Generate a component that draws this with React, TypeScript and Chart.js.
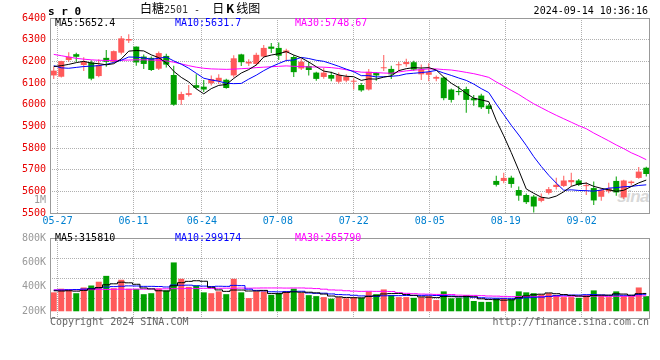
import React, { useEffect, useRef } from 'react';
import { Chart, registerables } from 'chart.js';

Chart.register(...registerables);

// ---------- data ----------
const DATES = [
  '05-24',
  '05-27', '05-28', '05-29', '05-30', '05-31',
  '06-03', '06-04', '06-05', '06-06', '06-07',
  '06-11', '06-12', '06-13', '06-14',
  '06-17', '06-18', '06-19', '06-20', '06-21',
  '06-24', '06-25', '06-26', '06-27', '06-28',
  '07-01', '07-02', '07-03', '07-04', '07-05',
  '07-08', '07-09', '07-10', '07-11', '07-12',
  '07-15', '07-16', '07-17', '07-18', '07-19',
  '07-22', '07-23', '07-24', '07-25', '07-26',
  '07-29', '07-30', '07-31', '08-01', '08-02',
  '08-05', '08-06', '08-07', '08-08', '08-09',
  '08-12', '08-13', '08-14', '08-15', '08-16',
  '08-19', '08-20', '08-21', '08-22', '08-23',
  '08-26', '08-27', '08-28', '08-29', '08-30',
  '09-02', '09-03', '09-04', '09-05', '09-06',
  '09-09', '09-10', '09-11', '09-12', '09-13',
];
const DATE_TICKS = [1, 11, 20, 30, 40, 50, 60, 70];

const OPEN = [
  6135, 6129, 6206, 6233, 6183, 6195, 6132, 6216, 6198, 6240,
  6296, 6268, 6222, 6216, 6166, 6225, 6137, 6022, 6045, 6090,
  6083, 6099, 6109, 6115, 6135, 6232, 6190, 6188, 6222, 6268,
  6262, 6240, 6220, 6167, 6178, 6148, 6128, 6137, 6106, 6111,
  6106, 6091, 6070, 6146, 6168, 6165, 6182, 6187, 6196, 6140,
  6138, 6120, 6125, 6070, 6063, 6072, 6030, 6042, 5996, 5648,
  5648, 5663, 5606, 5583, 5576, 5556, 5593, 5620, 5625, 5642,
  5650, 5624, 5615, 5575, 5600, 5648, 5572, 5638, 5662, 5709,
];
const HIGH = [
  6175, 6203, 6242, 6240, 6219, 6205, 6210, 6252, 6250, 6317,
  6325, 6268, 6232, 6222, 6245, 6235, 6180, 6060, 6091, 6140,
  6114, 6135, 6140, 6120, 6228, 6235, 6210, 6240, 6275, 6285,
  6287, 6258, 6228, 6212, 6198, 6152, 6170, 6152, 6148, 6140,
  6122, 6100, 6165, 6150, 6229, 6180, 6198, 6212, 6203, 6185,
  6191, 6135, 6130, 6075, 6086, 6083, 6045, 6050, 6003, 5672,
  5686, 5672, 5622, 5590, 5583, 5590, 5620, 5663, 5672, 5686,
  5657, 5642, 5645, 5614, 5640, 5668, 5653, 5650, 5712, 5714,
];
const LOW = [
  6118, 6125, 6198, 6198, 6155, 6113, 6126, 6175, 6195, 6232,
  6285, 6180, 6165, 6155, 6160, 6172, 5995, 6000, 6038, 6072,
  6058, 6088, 6095, 6074, 6125, 6178, 6178, 6180, 6220, 6238,
  6206, 6200, 6128, 6160, 6135, 6110, 6120, 6108, 6098, 6104,
  6070, 6060, 6065, 6110, 6155, 6118, 6155, 6175, 6157, 6114,
  6108, 6108, 6020, 6010, 6043, 5963, 5995, 5980, 5958, 5622,
  5637, 5617, 5557, 5542, 5502, 5550, 5585, 5608, 5620, 5624,
  5625, 5583, 5537, 5556, 5591, 5580, 5565, 5628, 5658, 5668,
];
const CLOSE = [
  6157, 6201, 6221, 6221, 6198, 6120, 6183, 6198, 6247, 6306,
  6303, 6195, 6188, 6160, 6238, 6185, 6000, 6049, 6053, 6078,
  6070, 6118, 6124, 6077, 6214, 6196, 6198, 6230, 6262, 6258,
  6226, 6250, 6150, 6198, 6160, 6119, 6148, 6120, 6137, 6129,
  6109, 6066, 6152, 6135, 6172, 6140, 6184, 6197, 6162, 6163,
  6150, 6128, 6030, 6022, 6058, 6022, 6020, 5988, 5980, 5630,
  5662, 5634, 5580, 5550, 5530, 5571, 5610, 5630, 5650, 5652,
  5630, 5626, 5558, 5606, 5614, 5595, 5650, 5645, 5691, 5680,
];
const MA5 = [
  6176, 6180, 6186, 6194, 6200, 6192, 6189, 6184, 6189, 6211,
  6247, 6250, 6248, 6230, 6217, 6193, 6154, 6126, 6105, 6073,
  6050, 6074, 6089, 6093, 6121, 6146, 6162, 6183, 6220, 6229,
  6235, 6245, 6229, 6216, 6197, 6175, 6155, 6149, 6137, 6131,
  6129, 6112, 6119, 6118, 6127, 6133, 6157, 6166, 6171, 6169,
  6171, 6160, 6127, 6099, 6078, 6052, 6030, 6022, 6014, 5928,
  5856, 5779, 5697, 5611, 5591, 5573, 5568, 5578, 5598, 5623,
  5634, 5638, 5623, 5614, 5607, 5600, 5605, 5622, 5639, 5652,
];
const MA10 = [
  6180, 6170, 6168, 6172, 6176, 6178, 6180, 6186, 6195, 6205,
  6220, 6219, 6216, 6210, 6214, 6220, 6202, 6187, 6168, 6145,
  6122, 6114, 6108, 6099, 6097, 6098, 6118, 6136, 6157, 6175,
  6190, 6204, 6206, 6218, 6213, 6205, 6200, 6189, 6177, 6164,
  6152, 6134, 6134, 6128, 6129, 6131, 6134, 6142, 6145, 6148,
  6152, 6158, 6146, 6135, 6123, 6112, 6095, 6074, 6056, 6003,
  5954, 5905, 5860, 5812, 5760, 5715, 5674, 5638, 5605, 5607,
  5604, 5603, 5601, 5606, 5615, 5617, 5621, 5623, 5627, 5630,
];
const MA30 = [
  6232, 6226, 6220, 6214, 6210, 6207, 6205, 6204, 6204, 6205,
  6206, 6207, 6207, 6206, 6205, 6202, 6196, 6188, 6180, 6173,
  6168, 6165, 6164, 6163, 6164, 6166, 6168, 6171, 6173, 6175,
  6177, 6179, 6177, 6176, 6174, 6174, 6173, 6171, 6167, 6161,
  6155, 6150, 6149, 6148, 6146, 6145, 6151, 6156, 6159, 6162,
  6165, 6165, 6162, 6160, 6155, 6149, 6143, 6135, 6126, 6105,
  6086, 6066, 6047, 6025, 6004, 5986, 5968, 5951, 5935, 5919,
  5903, 5889, 5869, 5851, 5833, 5814, 5797, 5778, 5763, 5746,
];

// volume, thousands
const VOLUME = [
  355, 385, 374, 348, 395, 411, 442, 490, 389, 458,
  385, 382, 340, 348, 387, 371, 600, 466, 400, 411,
  355, 348, 363, 340, 466, 355, 308, 363, 363, 334,
  350, 363, 385, 350, 332, 324, 316, 303, 316, 306,
  316, 310, 363, 340, 379, 332, 316, 316, 310, 316,
  324, 292, 363, 306, 310, 332, 284, 277, 277, 306,
  310, 298, 363, 355, 348, 337, 348, 334, 316, 316,
  310, 332, 371, 332, 316, 363, 324, 324, 395, 324,
];
const VOL_MA5 = [
  368, 366, 368, 365, 371, 383, 394, 417, 425, 438,
  433, 421, 391, 383, 368, 366, 409, 434, 445, 450,
  446, 396, 375, 363, 374, 374, 366, 366, 371, 345,
  344, 355, 359, 356, 356, 351, 341, 325, 318, 313,
  311, 310, 322, 327, 342, 345, 346, 337, 331, 318,
  316, 312, 321, 320, 319, 321, 319, 302, 296, 295,
  291, 294, 311, 326, 335, 340, 350, 344, 337, 330,
  325, 322, 329, 332, 332, 343, 341, 332, 344, 346,
];
const VOL_MA10 = [
  372, 374, 376, 378, 382, 386, 392, 398, 402, 405,
  408, 407, 404, 404, 403, 399, 415, 413, 414, 409,
  406, 403, 405, 404, 412, 410, 381, 371, 367, 360,
  359, 361, 363, 364, 350, 347, 348, 342, 337, 335,
  331, 326, 324, 323, 327, 328, 328, 329, 329, 330,
  331, 329, 329, 325, 319, 319, 315, 311, 308, 307,
  306, 306, 306, 311, 315, 316, 322, 328, 332, 333,
  333, 336, 337, 334, 331, 334, 331, 330, 338, 339,
];
const VOL_MA30 = [
  376, 375, 377, 376, 378, 377, 379, 378, 380, 381,
  380, 382, 381, 383, 382, 384, 385, 385, 387, 386,
  388, 387, 388, 389, 388, 390, 389, 390, 391, 391,
  391, 390, 391, 391, 389, 386, 381, 375, 373, 368,
  365, 363, 364, 363, 363, 362, 352, 347, 344, 341,
  340, 338, 338, 337, 332, 331, 330, 328, 325, 324,
  322, 320, 320, 320, 320, 321, 322, 323, 323, 323,
  323, 324, 324, 324, 322, 323, 323, 323, 326, 326,
];
const VOL_TICKS = [200, 400, 600, 800];
const VOL_BASE = 200;
const VOL_MIN = 145;
const VOL_MAX = 800;
const PRICE_MIN = 5500;
const PRICE_MAX = 6400;
const PRICE_STEP = 100;

// ---------- styles ----------
const UP = '#ff5a5a';
const DOWN = '#00a000';
const GRID = '#b0b0b0';
const FRAME = '#999999';
const MONO = '"DejaVu Sans Mono", monospace';
const TICK_FONT = { family: 'DejaVu Sans Mono', size: 10 };

const COLORS = CLOSE.map((c, i) => (c >= OPEN[i] ? UP : DOWN));

const framePlugin = {
  id: 'frame',
  afterDraw(chart: any) {
    const { ctx, chartArea: a } = chart;
    const l = Math.round(a.left);
    const r = Math.round(a.right);
    const t = Math.round(a.top);
    const b = Math.round(a.bottom);
    ctx.save();
    ctx.strokeStyle = FRAME;
    ctx.lineWidth = 1;
    ctx.strokeRect(l + 0.5, t + 0.5, r - l - 1, b - t);
    ctx.restore();
  },
};

const dateAxis = (showLabels: boolean, height: number) => ({
  type: 'linear',
  position: 'bottom',
  offset: false,
  min: 0,
  max: DATES.length - 1,
  afterBuildTicks: (s: any) => {
    s.ticks = DATE_TICKS.map((v) => ({ value: v }));
  },
  afterFit: (s: any) => {
    s.height = height;
  },
  ticks: {
    display: showLabels,
    autoSkip: false,
    maxRotation: 0,
    padding: 2,
    color: '#0080d0',
    font: TICK_FONT,
    callback: (v: number) => DATES[v],
  },
  grid: { color: GRID, lineWidth: 1, drawTicks: false, offset: false },
  border: { display: false, dash: [1, 1] },
});

const maLine = (label: string, data: number[], color: string, yAxisID: string, stepped: any) => ({
  type: 'line',
  label,
  data,
  borderColor: color,
  borderWidth: 1,
  pointRadius: 0,
  tension: 0,
  stepped,
  order: 0,
  xAxisID: 'x',
  yAxisID,
});

function T(props: { x?: number; r?: number; y: number; color?: string; size?: number; bold?: boolean; family?: string; children: any }) {
  const style: any = {
    position: 'absolute',
    top: props.y,
    color: props.color || '#000',
    font: `${props.bold ? 'bold ' : ''}${props.size || 10}px ${props.family || MONO}`,
    lineHeight: '12px',
    whiteSpace: 'pre',
  };
  if (props.r !== undefined) style.right = props.r;
  else style.left = props.x;
  return <div style={style}>{props.children}</div>;
}

export default function App() {
  const refA = useRef<HTMLCanvasElement>(null);
  const refB = useRef<HTMLCanvasElement>(null);

  useEffect(() => {
    const priceChart = new Chart(refA.current as HTMLCanvasElement, {
      type: 'bar',
      data: {
        labels: DATES,
        datasets: [
          maLine('MA5', MA5, '#000000', 'y', false),
          maLine('MA10', MA10, '#0000ff', 'y', false),
          maLine('MA30', MA30, '#ff00ff', 'y', false),
          {
            type: 'bar',
            label: 'body',
            data: OPEN.map((o, i) => [o, CLOSE[i]]),
            backgroundColor: COLORS,
            barThickness: 6,
            minBarLength: 1,
            grouped: false,
            inflateAmount: 0,
            order: 1,
            xAxisID: 'x',
            yAxisID: 'y',
          },
          {
            type: 'bar',
            label: 'wick',
            data: LOW.map((l, i) => [l, HIGH[i]]),
            backgroundColor: COLORS,
            barThickness: 1,
            grouped: false,
            inflateAmount: 0,
            order: 2,
            xAxisID: 'x',
            yAxisID: 'y',
          },
        ] as any,
      },
      options: {
        animation: false,
        responsive: false,
        maintainAspectRatio: false,
        events: [],
        layout: { padding: { left: 0, right: 10, top: 18, bottom: 0 } },
        plugins: { legend: { display: false }, tooltip: { enabled: false } },
        scales: {
          x: { type: 'category', display: false, offset: true },
          xd: dateAxis(true, 19),
          y: {
            type: 'linear',
            position: 'left',
            min: PRICE_MIN,
            max: PRICE_MAX,
            afterFit: (s: any) => {
              s.width = 50;
            },
            ticks: {
              stepSize: PRICE_STEP,
              color: '#e80000',
              font: TICK_FONT,
              padding: 4,
              callback: (v: number) => String(v),
            },
            grid: { color: GRID, lineWidth: 1, drawTicks: false },
            border: { display: false, dash: [1, 1] },
          },
        } as any,
      },
      plugins: [framePlugin],
    } as any);

    const volChart = new Chart(refB.current as HTMLCanvasElement, {
      type: 'bar',
      data: {
        labels: DATES,
        datasets: [
          maLine('MA5', VOL_MA5, '#000000', 'yv', 'middle'),
          maLine('MA10', VOL_MA10, '#0000ff', 'yv', 'middle'),
          maLine('MA30', VOL_MA30, '#ff00ff', 'yv', 'middle'),
          {
            type: 'bar',
            label: 'volume',
            data: VOLUME.map((v) => [VOL_BASE, v]),
            backgroundColor: COLORS,
            barThickness: 6,
            grouped: false,
            inflateAmount: 0,
            order: 1,
            xAxisID: 'x',
            yAxisID: 'yv',
          },
        ] as any,
      },
      options: {
        animation: false,
        responsive: false,
        maintainAspectRatio: false,
        events: [],
        layout: { padding: { left: 0, right: 10, top: 7, bottom: 10 } },
        plugins: { legend: { display: false }, tooltip: { enabled: false } },
        scales: {
          x: { type: 'category', display: false, offset: true },
          xd: dateAxis(false, 0),
          yv: {
            type: 'linear',
            position: 'left',
            min: VOL_MIN,
            max: VOL_MAX,
            afterBuildTicks: (s: any) => {
              s.ticks = VOL_TICKS.map((v) => ({ value: v }));
            },
            afterFit: (s: any) => {
              s.width = 50;
            },
            ticks: {
              color: '#999999',
              font: TICK_FONT,
              padding: 4,
              callback: (v: number) => `${v}K`,
            },
            grid: { display: false, drawTicks: false },
            border: { display: false },
          },
          yg: {
            type: 'linear',
            position: 'left',
            min: 0,
            max: 4,
            afterFit: (s: any) => {
              s.width = 0;
            },
            ticks: { display: false, stepSize: 1 },
            grid: { color: GRID, lineWidth: 1, drawTicks: false },
            border: { display: false, dash: [1, 1] },
          },
        } as any,
      },
      plugins: [framePlugin],
    } as any);

    return () => {
      priceChart.destroy();
      volChart.destroy();
    };
  }, []);

  return (
    <div style={{ position: 'fixed', left: 0, top: 0, width: 660, height: 360, background: '#fff', overflow: 'hidden' }}>
      <div
        style={{
          position: 'absolute',
          left: 617,
          top: 187,
          font: 'italic bold 17px "Liberation Sans", sans-serif',
          color: '#d8d8d8',
          letterSpacing: '-0.5px',
        }}
      >
        sina
      </div>
      <canvas ref={refA} width={660} height={232} style={{ position: 'absolute', left: 0, top: 0, width: 660, height: 232 }} />
      <canvas ref={refB} width={660} height={100} style={{ position: 'absolute', left: 0, top: 228, width: 660, height: 100 }} />

      <T x={48} y={6} size={11} bold>s r 0</T>
      <div
        style={{
          position: 'absolute',
          left: 140,
          top: 1,
          font: '12px "Noto Sans CJK SC", sans-serif',
          lineHeight: '14px',
          color: '#000',
          whiteSpace: 'pre',
        }}
      >
        白糖
        <span style={{ font: '10px "DejaVu Sans Mono", monospace', color: '#333' }}>{'2501 -  '}</span>
        日
        <b style={{ display: 'inline-block', width: 12, textAlign: 'center' }}>K</b>
        线图
      </div>
      <T r={12} y={5}>2024-09-14 10:36:16</T>

      <T x={55} y={17} color="#000000">MA5:5652.4</T>
      <T x={175} y={17} color="#0000ff">MA10:5631.7</T>
      <T x={295} y={17} color="#ff00ff">MA30:5748.67</T>

      <T r={614} y={194} color="#999999">1M</T>

      <T x={55} y={232} color="#000000">MA5:315810</T>
      <T x={175} y={232} color="#0000ff">MA10:299174</T>
      <T x={295} y={232} color="#ff00ff">MA30:265790</T>

      <T x={50} y={316} color="#666666">Copyright 2024 SINA.COM</T>
      <T r={11} y={316} color="#666666">http://finance.sina.com.cn</T>
    </div>
  );
}
